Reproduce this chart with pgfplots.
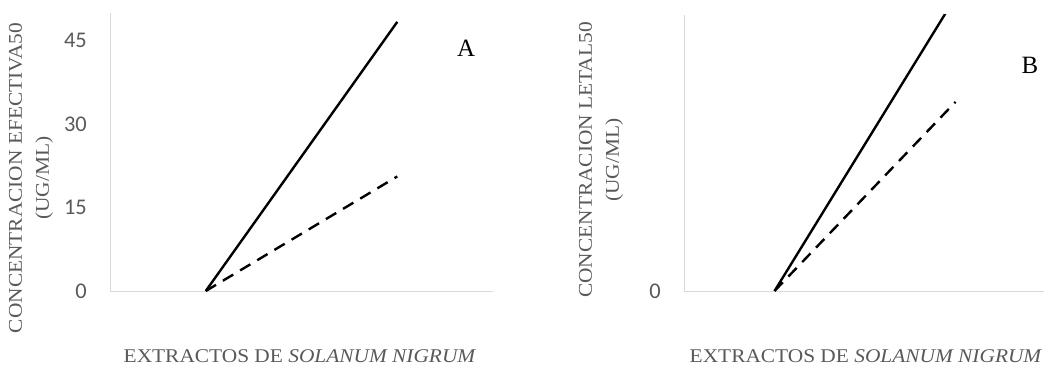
\documentclass[border=0pt]{standalone}
\usepackage{fontspec}
\setmainfont{Liberation Serif}
\newfontfamily\labfont{Liberation Serif}[FakeStretch=1.1]
\newfontfamily\tickfont{Carlito}
\usepackage{pgfplots}
\pgfplotsset{compat=1.18}
\definecolor{txt}{HTML}{595959}
\definecolor{axl}{HTML}{D9D9D9}
\begin{document}
\begin{tikzpicture}[x=1bp,y=1bp]
\path[use as bounding box] (0,0) rectangle (1044,366);
\pgfplotsset{common/.style={
  scale only axis, axis lines=left,
  axis line style={draw=axl, line width=1bp, -},
  xmin=0.5, xmax=2.5, xtick=\empty, enlargelimits=false,
  major tick length=0pt,
  yticklabel style={font=\fontsize{22.5}{22.5}\tickfont, text=txt, inner sep=0pt, xshift=-23bp},
  /pgf/number format/assume math mode=true,
  clip=true}}
\begin{axis}[common, at={(110bp,75bp)}, anchor=south west,
  width=383bp, height=278bp, ymin=0, ymax=50, ytick={0,15,30,45}]
\addplot[black, line width=2.4bp] coordinates {(1,0) (2,48.4)};
\addplot[black, line width=2.4bp, dash pattern=on 12bp off 8bp] coordinates {(1,0) (2,20.6)};
\end{axis}
\begin{axis}[common, at={(684bp,75bp)}, anchor=south west,
  width=362bp, height=276bp, ymin=0, ymax=100, ytick={0}]
\addplot[black, line width=2.4bp] coordinates {(1,0) (2,106.5)};
\addplot[black, line width=2.4bp, dash pattern=on 12bp off 8bp] coordinates {(1,0) (2,68.5)};
\end{axis}
\node[font=\fontsize{25}{25}\selectfont] at (466,318) {A};
\node[font=\fontsize{25}{25}\selectfont] at (1030,301) {B};
\node[inner sep=0pt, font=\fontsize{19.5}{19.5}\labfont, text=txt] at (300,10) {EXTRACTOS DE \textit{SOLANUM NIGRUM}};
\node[inner sep=0pt, font=\fontsize{19.5}{19.5}\labfont, text=txt] at (866,10) {EXTRACTOS DE \textit{SOLANUM NIGRUM}};
\node[rotate=90, align=center, font=\fontsize{19.5}{27}\labfont, text=txt] at (31,188) {CONCENTRACION EFECTIVA50\\(UG/ML)};
\node[rotate=90, align=center, font=\fontsize{19.5}{27}\labfont, text=txt] at (601,206) {CONCENTRACION LETAL50\\(UG/ML)};
\end{tikzpicture}
\end{document}
